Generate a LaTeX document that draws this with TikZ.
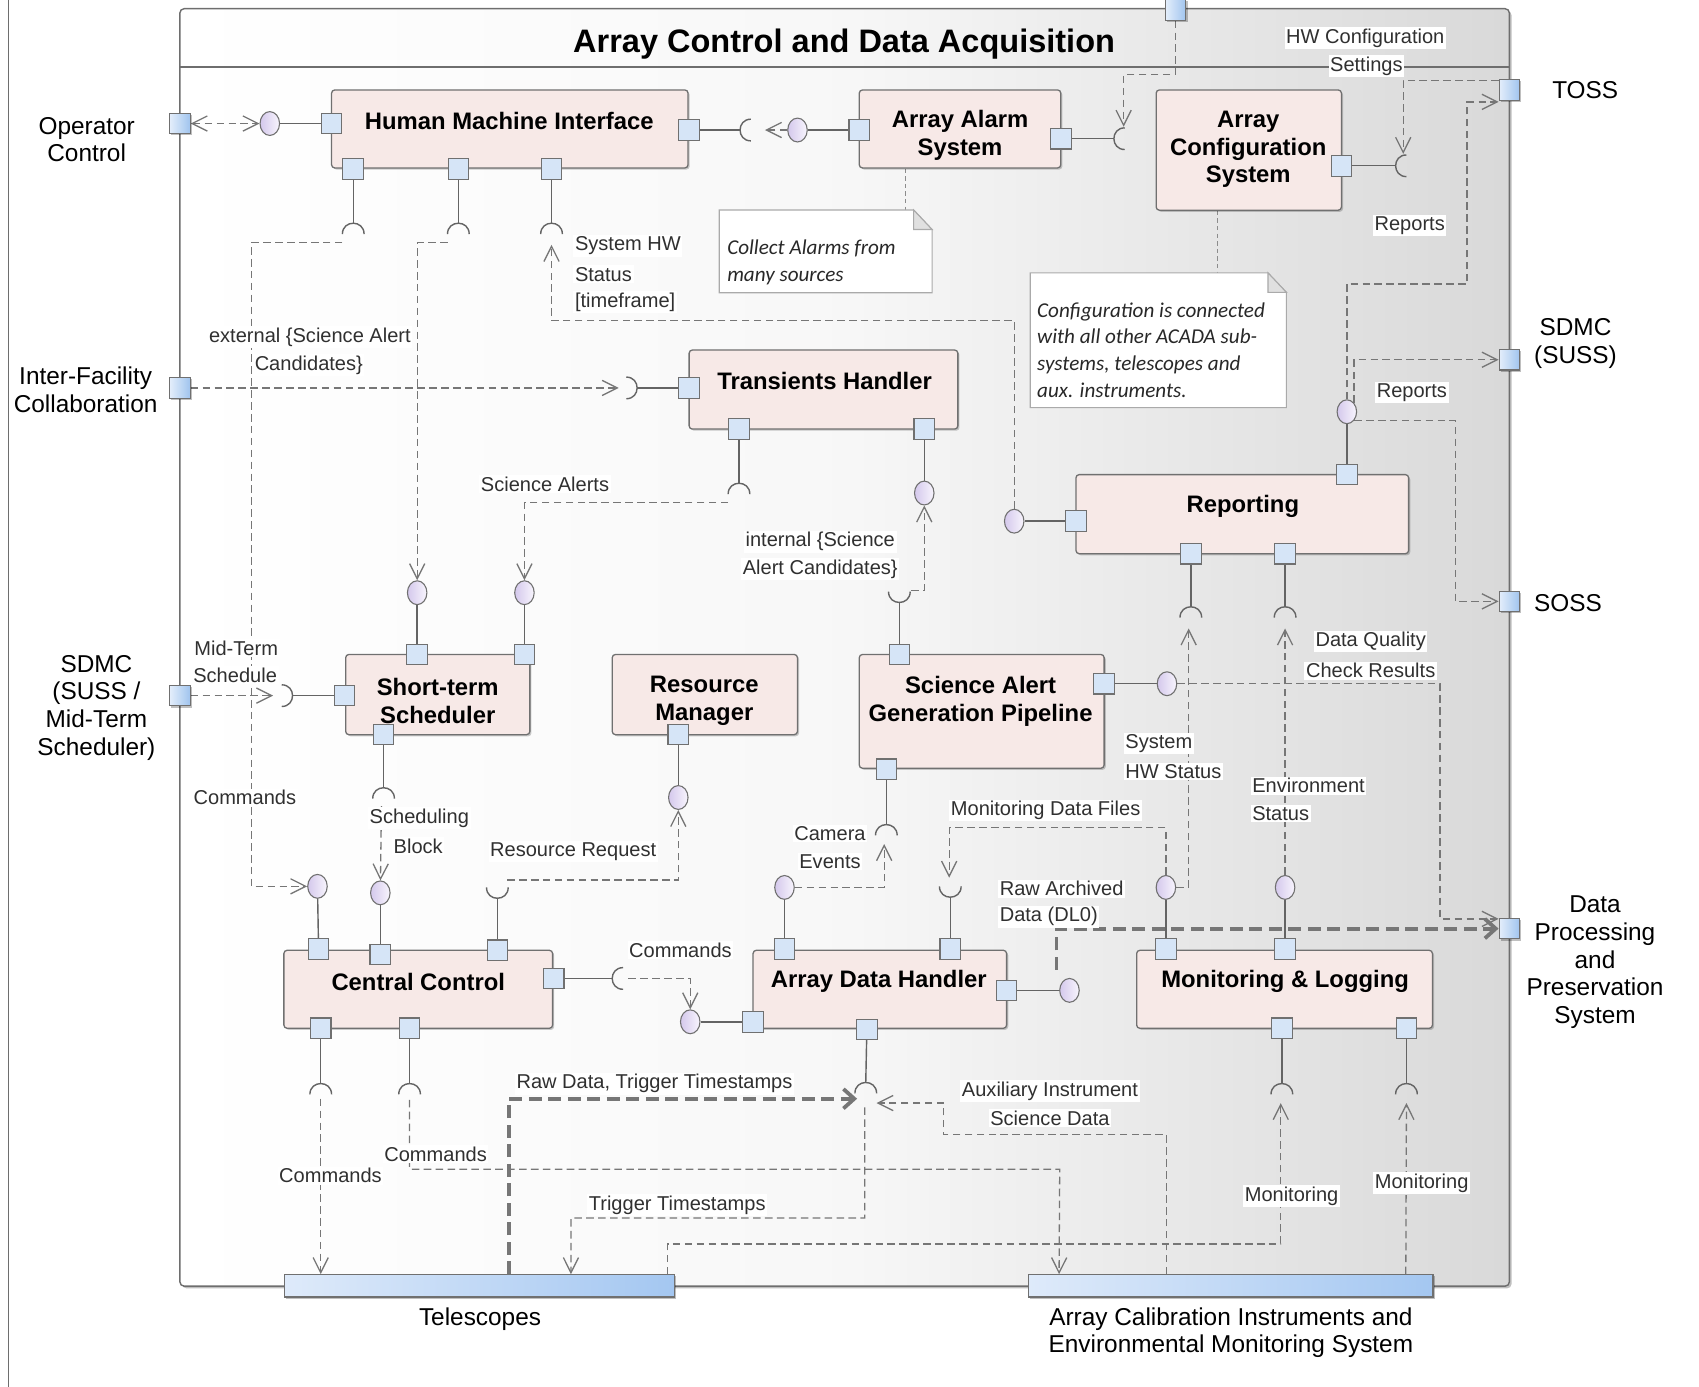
\documentclass[tikz,border=0pt]{standalone}
\usepackage{fontspec}
\setmainfont{Liberation Sans}
\newfontfamily\notefamily{Carlito}
\usetikzlibrary{arrows.meta,calc,shapes.geometric,shadows}

\definecolor{wire}{RGB}{100,100,100}
\definecolor{depline}{RGB}{118,118,118}
\definecolor{boxline}{RGB}{112,112,112}
\definecolor{compfill}{RGB}{247,233,231}
\definecolor{portfill}{RGB}{214,229,247}
\definecolor{portlight}{RGB}{228,238,251}
\definecolor{portdark}{RGB}{160,196,238}
\definecolor{barlight}{RGB}{222,234,250}
\definecolor{bardark}{RGB}{164,199,241}
\definecolor{lavdark}{RGB}{212,200,236}
\definecolor{lavlight}{RGB}{248,245,253}
\definecolor{lbltext}{RGB}{48,48,48}
\definecolor{notetext}{RGB}{40,40,40}
\definecolor{noteline}{RGB}{170,170,170}
\definecolor{framegray}{RGB}{110,110,110}

\pgfdeclarelayer{framelayer}
\pgfdeclarelayer{wires}
\pgfsetlayers{framelayer,wires,main}

\tikzset{
  sysframe/.style={draw=framegray, line width=1.3pt, rounded corners=4pt, inner sep=0pt,
    left color=white, right color=black!15, middle color=black!3,
    minimum width=1227pt, minimum height=1179pt,
    drop shadow={shadow xshift=2pt, shadow yshift=-2pt, fill=black, opacity=0.25}},
  comp/.style={draw=boxline, line width=1.2pt, fill=compfill, rounded corners=3pt, inner sep=0pt,
    drop shadow={shadow xshift=1.5pt, shadow yshift=-1.5pt, fill=black, opacity=0.2}},
  comptext/.style={font=\bfseries\fontsize{22}{25.5}\selectfont, align=center, inner sep=0pt, yshift=-2pt},
  port/.style={draw=boxline, line width=1pt, fill=portfill, minimum size=19pt, inner sep=0pt},
  extport/.style={draw=boxline, line width=1pt, left color=portlight, right color=portdark,
    minimum size=19pt, inner sep=0pt,
    drop shadow={shadow xshift=1.5pt, shadow yshift=-1.5pt, fill=black, opacity=0.25}},
  bar/.style={draw=boxline, line width=1.2pt, left color=barlight, right color=bardark,
    minimum height=20.5pt, inner sep=0pt,
    drop shadow={shadow xshift=1.5pt, shadow yshift=-1.5pt, fill=black, opacity=0.25}},
  lolli/.style={ellipse, draw=boxline, line width=1pt, left color=lavdark, right color=lavlight,
    minimum width=18pt, minimum height=22pt, inner sep=0pt},
  conn/.style={draw=wire, line width=1.3pt},
  dep/.style={draw=depline, line width=1.2pt, dash pattern=on 7pt off 4pt,
    -{Straight Barb[length=14pt,width=14pt]}},
  dep2/.style={draw=depline, line width=1.2pt, dash pattern=on 7pt off 4pt,
    {Straight Barb[length=14pt,width=14pt]}-{Straight Barb[length=14pt,width=14pt]}},
  thickdep/.style={draw=depline, line width=3.5pt, dash pattern=on 12pt off 6pt,
    -{Straight Barb[length=10pt,width=18pt]}},
  notelink/.style={draw=black!45, line width=1pt, dash pattern=on 4pt off 3pt},
  lbl/.style={fill=white, text=lbltext, inner xsep=1.5pt, inner ysep=1.5pt, yshift=-2pt,
    font=\fontsize{18.5}{21}\selectfont},
  ext/.style={align=center, font=\fontsize{22.5}{25.5}\selectfont, inner sep=0pt},
  notetxt/.style={font=\notefamily\itshape\fontsize{19.5}{24.5}\selectfont, align=left,
    text=notetext, inner sep=0pt},
  sockD/.pic={\draw[conn] (-10,10) .. controls (-10,-3.33) and (10,-3.33) .. (10,10);},
  sockU/.pic={\draw[conn] (-10,-10) .. controls (-10,3.33) and (10,3.33) .. (10,-10);},
  sockR/.pic={\draw[conn] (10,-10) .. controls (-3.33,-10) and (-3.33,10) .. (10,10);},
  sockL/.pic={\draw[conn] (-10,-10) .. controls (3.33,-10) and (3.33,10) .. (-10,10);},
}

\begin{document}
\begin{tikzpicture}[x=1pt,y=-1pt]
\useasboundingbox (0,0) rectangle (1568,1280);

% ---------- enclosing frame ----------
\begin{pgfonlayer}{framelayer}
\draw[draw=framegray, line width=1.2pt] (8,0) -- (8,1280);
\node[sysframe] (acada) at (779.5,597.5) {};
\draw[draw=framegray, line width=1.2pt] ($(acada.north west)+(0,54.5)$) -- ($(acada.north east)+(0,54.5)$);
\end{pgfonlayer}
\node[font=\bfseries\fontsize{30}{34}\selectfont, inner sep=0pt] (title) at (779,41) {Array Control and Data Acquisition};

% ---------- notes ----------
\node[minimum width=196pt, minimum height=76pt, inner sep=0pt] (note1) at (762,232) {};
\draw[draw=noteline, fill=white, line width=1pt] (note1.north west) -- ($(note1.north east)+(-17,0)$) -- ($(note1.north east)+(0,18)$) -- (note1.south east) -- (note1.south west) -- cycle;
\draw[draw=noteline, fill=black!12, line width=1pt] ($(note1.north east)+(-17,0)$) -- ($(note1.north east)+(-17,18)$) -- ($(note1.north east)+(0,18)$) -- cycle;
\node[notetxt, anchor=west] (note1-t) at (671,242) {Collect Alarms from\\many sources};

\node[minimum width=236pt, minimum height=124pt, inner sep=0pt] (note2) at (1069,314) {};
\draw[draw=noteline, fill=white, line width=1pt] (note2.north west) -- ($(note2.north east)+(-17,0)$) -- ($(note2.north east)+(0,18)$) -- (note2.south east) -- (note2.south west) -- cycle;
\draw[draw=noteline, fill=black!12, line width=1pt] ($(note2.north east)+(-17,0)$) -- ($(note2.north east)+(-17,18)$) -- ($(note2.north east)+(0,18)$) -- cycle;
\node[notetxt, anchor=west] (note2-t) at (957,323) {Configuration is connected\\with all other ACADA sub-\\systems, telescopes and\\aux. instruments.};

% ---------- components ----------
\node[comp, minimum width=329pt, minimum height=72pt] (hmi) at (470.5,119) {};
\node[comp, minimum width=186pt, minimum height=72pt] (aas) at (886,119) {};
\node[comp, minimum width=171pt, minimum height=111pt] (acs) at (1152.5,138.5) {};
\node[comp, minimum width=248pt, minimum height=73pt] (th) at (760,359.5) {};
\node[comp, minimum width=307pt, minimum height=73pt] (rep) at (1146.5,474.5) {};
\node[comp, minimum width=170pt, minimum height=74pt] (sts) at (404,641) {};
\node[comp, minimum width=171pt, minimum height=74pt] (rm) at (650.5,641) {};
\node[comp, minimum width=226pt, minimum height=105pt] (sagp) at (906,656.5) {};
\node[comp, minimum width=248pt, minimum height=72pt] (cc) at (386,913) {};
\node[comp, minimum width=234pt, minimum height=72pt] (adh) at (812,913) {};
\node[comp, minimum width=273pt, minimum height=72pt] (ml) at (1185.5,913) {};

\node[comptext] (hmi-t) at (470,110) {Human Machine Interface};
\node[comptext] (aas-t) at (886,123) {Array Alarm\\System};
\node[comptext] (acs-t) at (1152,136) {Array\\Configuration\\System};
\node[comptext] (th-t) at (761,350) {Transients Handler};
\node[comptext] (rep-t) at (1147,465) {Reporting};
\node[comptext] (sts-t) at (404,645) {Short-term\\Scheduler};
\node[comptext] (rm-t) at (650,645) {Resource\\Manager};
\node[comptext] (sagp-t) at (905,645) {Science Alert\\Generation Pipeline};
\node[comptext] (cc-t) at (386,904) {Central Control};
\node[comptext] (adh-t) at (811,904) {Array Data Handler};
\node[comptext] (ml-t) at (1186,904) {Monitoring \& Logging};

% ---------- external systems ----------
\node[bar, minimum width=360pt] (tel) at (442.5,1186.75) {};
\node[bar, minimum width=373.5pt] (cal) at (1135.75,1186.75) {};
\node[ext] (tel-t) at (443,1217) {Telescopes};
\node[ext] (cal-t) at (1136,1230) {Array Calibration Instruments and\\Environmental Monitoring System};

\node[extport] (op) at (166,114) {};
\node[extport] (inter) at (166,358) {};
\node[extport] (sdmc1) at (166,642) {};
\node[extport] (tp) at (1085,9) {};
\node[extport] (toss) at (1393,83) {};
\node[extport] (sdmc2) at (1393,332) {};
\node[extport] (soss) at (1393,555) {};
\node[extport] (dpps) at (1393,857) {};

\node[ext] (op-t) at (80,129) {Operator\\Control};
\node[ext] (inter-t) at (79,360) {Inter-Facility\\Collaboration};
\node[ext] (sdmc1-t) at (89,653) {SDMC\\(SUSS /\\Mid-Term\\Scheduler)};
\node[ext] (toss-t) at (1463,83) {TOSS};
\node[ext] (sdmc2-t) at (1454,317) {SDMC\\(SUSS)};
\node[ext] (soss-t) at (1447,557) {SOSS};
\node[ext] (dpps-t) at (1472,888) {Data\\Processing\\and\\Preservation\\System};

% ---------- ports ----------
\node[port] (p-hmiL) at (306,114) {};
\node[port] (p-hmiR) at (636,120) {};
\node[port] (p-hmiB1) at (326,156) {};
\node[port] (p-hmiB2) at (423,156) {};
\node[port] (p-hmiB3) at (509,156) {};
\node[port] (p-aasL) at (793,120) {};
\node[port] (p-aasR) at (979,128) {};
\node[port] (p-acsR) at (1238,153) {};
\node[port] (p-thL) at (636,358) {};
\node[port] (p-thB1) at (682,396) {};
\node[port] (p-thB2) at (853,396) {};
\node[port] (p-repL) at (993,481) {};
\node[port] (p-repT) at (1243,438) {};
\node[port] (p-repB1) at (1099,511) {};
\node[port] (p-repB2) at (1186,511) {};
\node[port] (p-stsT1) at (385,604) {};
\node[port] (p-stsT2) at (484,604) {};
\node[port] (p-stsL) at (318,642) {};
\node[port] (p-stsB) at (354,678) {};
\node[port] (p-rmB) at (626,678) {};
\node[port] (p-sagpT) at (830,604) {};
\node[port] (p-sagpR) at (1019,631) {};
\node[port] (p-sagpB) at (818,710) {};
\node[port] (p-ccT1) at (294,876) {};
\node[port] (p-ccT2) at (351,881) {};
\node[port] (p-ccT3) at (459,877) {};
\node[port] (p-ccR) at (511,903) {};
\node[port] (p-ccB1) at (296,949) {};
\node[port] (p-ccB2) at (378,949) {};
\node[port] (p-adhT1) at (724,876) {};
\node[port] (p-adhT2) at (877,876) {};
\node[port] (p-adhL) at (695,943) {};
\node[port] (p-adhR) at (929,914) {};
\node[port] (p-adhB) at (800,950) {};
\node[port] (p-mlT1) at (1076,876) {};
\node[port] (p-mlT2) at (1186,876) {};
\node[port] (p-mlB1) at (1183,949) {};
\node[port] (p-mlB2) at (1298,949) {};

% ---------- provided interfaces ----------
\node[lolli] (c-hmi) at (249,114) {};
\node[lolli] (c-aas) at (736,120) {};
\node[lolli] (c-th2) at (853,455) {};
\node[lolli] (c-rep) at (1243,380) {};
\node[lolli] (c-repL) at (936,481) {};
\node[lolli] (c-sts1) at (385,547) {};
\node[lolli] (c-sts2) at (484,547) {};
\node[lolli] (c-rm) at (626,736) {};
\node[lolli] (c-sagp) at (1077,631) {};
\node[lolli] (c-cc1) at (293,818) {};
\node[lolli] (c-cc2) at (351,824) {};
\node[lolli] (c-adhL) at (637,943) {};
\node[lolli] (c-adh1) at (724,819) {};
\node[lolli] (c-adhR) at (987,914) {};
\node[lolli] (c-ml1) at (1076,819) {};
\node[lolli] (c-ml2) at (1186,819) {};

% ---------- required interfaces ----------
\coordinate (s-hmiR) at (683,120);  \pic at (s-hmiR) {sockR};
\coordinate (s-aas) at (1028,128);  \pic at (s-aas) {sockR};
\coordinate (s-acs) at (1288,153);  \pic at (s-acs) {sockR};
\coordinate (s-hmi1) at (326,206);  \pic at (s-hmi1) {sockD};
\coordinate (s-hmi2) at (423,206);  \pic at (s-hmi2) {sockD};
\coordinate (s-hmi3) at (509,206);  \pic at (s-hmi3) {sockD};
\coordinate (s-th) at (588,358);    \pic at (s-th) {sockL};
\coordinate (s-th1) at (682,446);   \pic at (s-th1) {sockD};
\coordinate (s-rep1) at (1099,560); \pic at (s-rep1) {sockD};
\coordinate (s-rep2) at (1186,560); \pic at (s-rep2) {sockD};
\coordinate (s-sts) at (270,642);   \pic at (s-sts) {sockL};
\coordinate (s-stsb) at (354,727);  \pic at (s-stsb) {sockD};
\coordinate (s-sagp) at (830,556);  \pic at (s-sagp) {sockU};
\coordinate (s-sagpb) at (818,761); \pic at (s-sagpb) {sockD};
\coordinate (s-cc3) at (459,829);   \pic at (s-cc3) {sockU};
\coordinate (s-ccR) at (565,903);   \pic at (s-ccR) {sockR};
\coordinate (s-cc4) at (296,1000);  \pic at (s-cc4) {sockD};
\coordinate (s-cc5) at (378,1000);  \pic at (s-cc5) {sockD};
\coordinate (s-adh2) at (877,828);  \pic at (s-adh2) {sockU};
\coordinate (s-adhb) at (799,999);  \pic at (s-adhb) {sockD};
\coordinate (s-ml3) at (1183,1000); \pic at (s-ml3) {sockD};
\coordinate (s-ml4) at (1298,1000); \pic at (s-ml4) {sockD};

% attachment points of the dependencies at the sockets
\coordinate (s-hmiR-in) at (706,120);
\coordinate (s-aas-in) at (1037,117);
\coordinate (s-acs-in) at (1295,142);
\coordinate (s-hmi1-out) at (316,224);
\coordinate (s-hmi2-out) at (413,224);
\coordinate (s-hmi3-in) at (509,226);
\coordinate (s-th-in) at (571,358);
\coordinate (s-th1-out) at (672,464);
\coordinate (s-rep1-in) at (1097,580);
\coordinate (s-rep2-in) at (1186,580);
\coordinate (s-sts-in) at (252,642);
\coordinate (s-stsb-out) at (352,744);
\coordinate (s-sagp-out) at (841,545);
\coordinate (s-sagpb-in) at (816,779);
\coordinate (s-cc3-out) at (468,812);
\coordinate (s-ccR-out) at (580,903);
\coordinate (s-cc4-out) at (296,1014);
\coordinate (s-cc5-out) at (378,1015);
\coordinate (s-adh2-in) at (876,810);
\coordinate (s-adhb-in1) at (791,1014);
\coordinate (s-adhb-in2) at (809,1018);
\coordinate (s-adhb-out) at (798,1022);
\coordinate (s-ml3-in) at (1182,1018);
\coordinate (s-ml4-in) at (1298,1018);

% ---------- wiring ----------
\begin{pgfonlayer}{wires}
% port-to-interface links
\draw[conn] (p-hmiL) -- (c-hmi);
\draw[conn] (p-hmiR) -- (s-hmiR);
\draw[conn] (p-aasL) -- (c-aas);
\draw[conn] (p-aasR) -- (s-aas);
\draw[conn] (p-acsR) -- (s-acs);
\draw[conn] (p-hmiB1) -- (s-hmi1);
\draw[conn] (p-hmiB2) -- (s-hmi2);
\draw[conn] (p-hmiB3) -- (s-hmi3);
\draw[conn] (p-thL) -- (s-th);
\draw[conn] (p-thB1) -- (s-th1);
\draw[conn] (p-thB2) -- (c-th2);
\draw[conn] (p-repT) -- (c-rep);
\draw[conn] (p-repL) -- (c-repL);
\draw[conn] (p-repB1) -- (s-rep1);
\draw[conn] (p-repB2) -- (s-rep2);
\draw[conn] (p-stsT1) -- (c-sts1);
\draw[conn] (p-stsT2) -- (c-sts2);
\draw[conn] (p-stsL) -- (s-sts);
\draw[conn] (p-stsB) -- (s-stsb);
\draw[conn] (p-rmB) -- (c-rm);
\draw[conn] (p-sagpT) -- (s-sagp);
\draw[conn] (p-sagpR) -- (c-sagp);
\draw[conn] (p-sagpB) -- (s-sagpb);
\draw[conn] (p-ccT1) -- (c-cc1);
\draw[conn] (p-ccT2) -- (c-cc2);
\draw[conn] (p-ccT3) -- (s-cc3);
\draw[conn] (p-ccR) -- (s-ccR);
\draw[conn] (p-ccB1) -- (s-cc4);
\draw[conn] (p-ccB2) -- (s-cc5);
\draw[conn] (p-adhT1) -- (c-adh1);
\draw[conn] (p-adhT2) -- (s-adh2);
\draw[conn] (p-adhL) -- (c-adhL);
\draw[conn] (p-adhR) -- (c-adhR);
\draw[conn] (p-adhB) -- (s-adhb);
\draw[conn] (p-mlT1) -- (c-ml1);
\draw[conn] (p-mlT2) -- (c-ml2);
\draw[conn] (p-mlB1) -- (s-ml3);
\draw[conn] (p-mlB2) -- (s-ml4);

% note anchors
\path ($(aas.south west)+(43,0)$) coordinate (nl1);
\draw[notelink] (nl1) -- (nl1 |- note1.north);
\path ($(acs.south west)+(57,0)$) coordinate (nl2);
\draw[notelink] (nl2) -- (nl2 |- note2.north);

% dependencies
\draw[dep2] (op) -- (c-hmi);
\draw[dep] (c-aas) -- (s-hmiR-in);
\draw[dep] (tp) |- (1037,69) -- (s-aas-in);
\draw[dep] ($(toss.west)+(0,-9)$) -| (s-acs-in);
\draw[dep] (c-rep) |- (1354,262) |- ($(toss.west)+(0,11)$);
\draw[dep] (c-rep.north east) |- (sdmc2);
\draw[dep] (c-rep.south east) -| (1343,555) -- (soss);
\draw[dep] (s-hmi1-out) -| (232,818) -- (c-cc1);
\draw[dep] (s-hmi2-out) -| (c-sts1);
\draw[dep] (c-repL) |- (509,296) -- (s-hmi3-in);
\draw[dep] (inter) -- (s-th-in);
\draw[dep] (s-th1-out) -| (c-sts2);
\draw[dep] (s-sagp-out) -| (c-th2);
\draw[dep] (sdmc1) -- (s-sts-in);
\draw[dep] (s-stsb-out) -- (c-cc2);
\draw[dep] (s-cc3-out) -| (c-rm);
\draw[dep] (s-ccR-out) -| (c-adhL);
\draw[dep] (c-adh1) -| (s-sagpb-in);
\draw[dep] (c-ml1) |- (876,764) -- (s-adh2-in);
\draw[dep] (c-ml1.east) -| (s-rep1-in);
\draw[dep] (c-ml2) -- (s-rep2-in);
\draw[dep] (c-sagp) -| (1329,848) -- ($(dpps.west)+(0,-9)$);
\draw[thickdep] ($(c-adhR)+(-12,-19)$) |- (dpps);
\draw[dep] (s-cc4-out) -- (s-cc4-out |- tel.north);
\draw[dep] (s-cc5-out) |- (978,1079) -- ($(cal.north west)+(29,0)$);
\draw[thickdep] ($(tel.north west)+(208,0)$) |- (s-adhb-in1);
\draw[dep] ($(cal.north west)+(128,0)$) |- (871,1047) |- (s-adhb-in2);
\draw[dep] (s-adhb-out) |- (527,1124) -- ($(tel.north west)+(265,0)$);
\draw[dep] ($(tel.north west)+(354,0)$) |- (1182,1148) -- (s-ml3-in);
\draw[dep] ($(cal.north west)+(349,0)$) -- (s-ml4-in);
\end{pgfonlayer}

% ---------- connector labels ----------
\node[lbl] (l-hw1) at (1260,33) {HW Configuration};
\node[lbl] (l-hw2) at (1261,59) {Settings};
\node[lbl] (l-rep1) at (1301,206) {Reports};
\node[lbl] (l-rep2) at (1303,360) {Reports};
\node[lbl, anchor=west] (l-sys1) at (529,225) {System HW};
\node[lbl, anchor=west] (l-sys2) at (529,251) {Status};
\node[lbl, anchor=west] (l-sys3) at (529,277) {[timeframe]};
\node[lbl] (l-ext1) at (286,309) {external \{Science Alert};
\node[lbl] (l-ext2) at (285,335) {Candidates\}};
\node[lbl] (l-sa) at (503,445) {Science Alerts};
\node[lbl] (l-int1) at (757,498) {internal \{Science};
\node[lbl] (l-int2) at (757,523) {Alert Candidates\}};
\node[lbl] (l-mts1) at (218,596) {Mid-Term};
\node[lbl] (l-mts2) at (217,621) {Schedule};
\node[lbl] (l-cmd1) at (226,734) {Commands};
\node[lbl] (l-sb1) at (387,753) {Scheduling};
\node[lbl] (l-sb2) at (386,779) {Block};
\node[lbl] (l-rr) at (529,784) {Resource Request};
\node[lbl] (l-ce1) at (766,767) {Camera};
\node[lbl] (l-ce2) at (766,793) {Events};
\node[lbl] (l-mdf) at (965,746) {Monitoring Data Files};
\node[lbl, anchor=west] (l-shw1) at (1037,684) {System};
\node[lbl, anchor=west] (l-shw2) at (1037,710) {HW Status};
\node[lbl, anchor=west] (l-env1) at (1154,723) {Environment};
\node[lbl, anchor=west] (l-env2) at (1154,749) {Status};
\node[lbl] (l-dq1) at (1265,590) {Data Quality};
\node[lbl] (l-dq2) at (1265,617) {Check Results};
\node[lbl, anchor=west] (l-raw1) at (921,818) {Raw Archived};
\node[lbl, anchor=west] (l-raw2) at (921,844) {Data (DL0)};
\node[lbl] (l-cmd2) at (628,875) {Commands};
\node[lbl] (l-rdt) at (604,998) {Raw Data, Trigger Timestamps};
\node[lbl] (l-aux1) at (969,1005) {Auxiliary Instrument};
\node[lbl] (l-aux2) at (969,1030) {Science Data};
\node[lbl] (l-cmd3) at (402,1063) {Commands};
\node[lbl] (l-cmd4) at (305,1083) {Commands};
\node[lbl] (l-tt) at (625,1110) {Trigger Timestamps};
\node[lbl] (l-mon1) at (1192,1102) {Monitoring};
\node[lbl] (l-mon2) at (1312,1090) {Monitoring};

\end{tikzpicture}
\end{document}
